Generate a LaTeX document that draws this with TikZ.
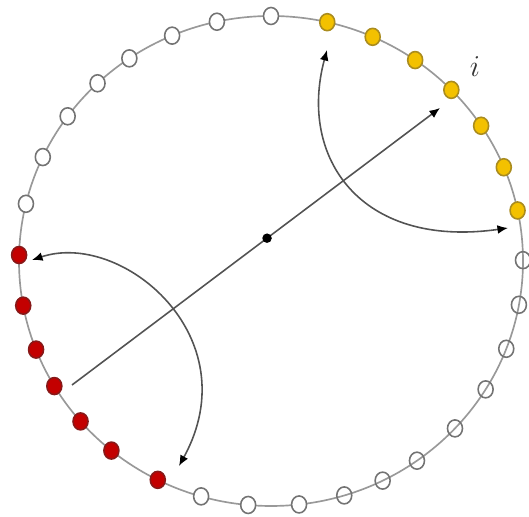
\documentclass[tikz,border=0pt]{standalone}
\usepackage{tikz}
\usetikzlibrary{arrows.meta,positioning,shapes.geometric,calc}

\definecolor{beadyellow}{RGB}{243,193,0}
\definecolor{beadyellowrim}{RGB}{170,140,30}
\definecolor{beadred}{RGB}{195,0,0}
\definecolor{beadredrim}{RGB}{135,25,25}

\begin{document}
\begin{tikzpicture}[x=0.02cm, y=0.02cm,
  bead/.style={ellipse, draw=gray!90!black, line width=0.9pt,
    minimum width=0.3cm, minimum height=0.34cm, inner sep=0pt},
  wbead/.style={bead, fill=white},
  obead/.style={bead},
  ybead/.style={bead, fill=beadyellow, draw=beadyellowrim},
  rbead/.style={bead, fill=beadred, draw=beadredrim},
  ring/.style={gray!80, line width=0.95pt},
  hop/.style={{Latex[length=6pt, width=5pt, color=black]}-{Latex[length=6pt, width=5pt, color=black]},
    gray!65!black, line width=0.9pt},
  ray/.style={-{Latex[length=6pt, width=5pt, color=black]}, gray!65!black, line width=0.9pt},
  dot/.style={circle, fill=black, inner sep=0pt, minimum size=0.19cm},
  lbl/.style={font=\LARGE, text=gray!40!black},
]
  \useasboundingbox (0,0) rectangle (529,517);

  % Ring of beads: angle, style.
  \coordinate (c) at (271,256);
  \draw[ring] (c) ellipse [x radius=252, y radius=245];
  \foreach \a/\s [count=\k] in {
      90/wbead, 102.4/wbead, 113.1/wbead, 124.2/wbead, 133.5/wbead,
      143.8/wbead, 154.9/wbead, 166.5/wbead,
      178.6/rbead, 190.5/rbead, 201.2/rbead, 210.7/rbead, 220.9/rbead,
      230.7/rbead, 243.3/rbead,
      253.9/wbead, 264.8/wbead, 276.4/wbead,
      286.9/obead, 296.3/obead, 305.4/obead, 316.9/obead, 328.4/obead,
      339.0/obead, 349.7/obead, 0.2/obead,
      11.9/ybead, 22.5/ybead, 33.5/ybead, 44.3/ybead, 55.1/ybead,
      66.2/ybead, 77.1/ybead} {
    \node[\s] (b\k) at ($(c)+(\a:252 and 245)$) {};
  }

  % Upper swap between the yellow ends
  \coordinate (ua) at (327,467);
  \coordinate (ub) at (508,289);
  \draw[hop] (ua) .. controls (298,360) and (360,268) .. (ub);
  % Lower swap between the red ends
  \coordinate (la) at (32,257);
  \coordinate (lb) at (179,51);
  \draw[hop] (la) .. controls (122,287) and (250,180) .. (lb);

  % Diagonal through the dot
  \coordinate (rs) at (72,132);
  \coordinate (re) at (440,409);
  \draw[ray] (rs) -- node[dot, pos=0.53] (ctr) {} (re);

  \node[lbl] (ilbl) at (475,450) {$i$};
\end{tikzpicture}
\end{document}
